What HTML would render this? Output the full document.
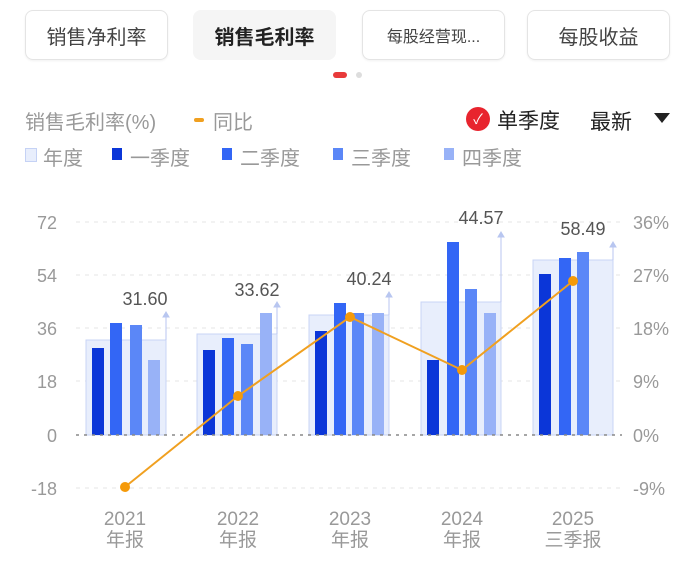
<!DOCTYPE html>
<html><head><meta charset="utf-8"><style>
body{margin:0;width:692px;height:565px;background:#fff;font-family:"Liberation Sans","Noto Sans CJK SC",sans-serif;position:relative;overflow:hidden}
.tab{position:absolute;top:10px;height:50px;width:143px;border:1px solid #e4e4e4;border-radius:8px;box-sizing:border-box;display:flex;align-items:center;justify-content:center;font-size:20px;color:#444;box-shadow:0 1px 2px rgba(0,0,0,0.06)}
.t{position:absolute;white-space:nowrap}
</style></head><body>
<div class="tab" style="left:25px">销售净利率</div>
<div class="tab" style="left:193px;border:none;background:#f5f5f5;font-weight:bold;color:#222;box-shadow:none">销售毛利率</div>
<div class="tab" style="left:362px;font-size:16px">每股经营现...</div>
<div class="tab" style="left:527px">每股收益</div>
<div style="position:absolute;left:333px;top:72px;width:14px;height:6px;border-radius:3px;background:#e83a3a"></div>
<div style="position:absolute;left:356px;top:72px;width:6px;height:6px;border-radius:3px;background:#ddd"></div>
<div class="t" style="left:25px;top:106px;font-size:20px;color:#999">销售毛利率(%)</div>
<div style="position:absolute;left:194px;top:118px;width:10px;height:4px;border-radius:2px;background:#f0a020"></div>
<div class="t" style="left:213px;top:106px;font-size:20px;color:#999">同比</div>
<div style="position:absolute;left:466px;top:107px;width:24px;height:24px;border-radius:12px;background:#e8242e;color:#fff;font-size:14px;text-align:center;line-height:24px">✓</div>
<div class="t" style="left:497px;top:105px;font-size:21px;color:#222">单季度</div>
<div class="t" style="left:590px;top:106px;font-size:21px;color:#222">最新</div>
<div style="position:absolute;left:654px;top:113px;width:0;height:0;border-left:8px solid transparent;border-right:8px solid transparent;border-top:10px solid #222"></div>
<div style="position:absolute;left:25px;top:148px;width:10px;height:12px;background:#e8eefc;border:1px solid #c5d2f5"></div>
<div class="t" style="left:43px;top:142px;font-size:20px;color:#999">年度</div>
<div style="position:absolute;left:112px;top:148px;width:10px;height:12px;background:#0b36d8"></div>
<div class="t" style="left:130px;top:142px;font-size:20px;color:#999">一季度</div>
<div style="position:absolute;left:222px;top:148px;width:10px;height:12px;background:#3366f5"></div>
<div class="t" style="left:240px;top:142px;font-size:20px;color:#999">二季度</div>
<div style="position:absolute;left:333px;top:148px;width:10px;height:12px;background:#5b87f7"></div>
<div class="t" style="left:351px;top:142px;font-size:20px;color:#999">三季度</div>
<div style="position:absolute;left:444px;top:148px;width:10px;height:12px;background:#98b2f7"></div>
<div class="t" style="left:462px;top:142px;font-size:20px;color:#999">四季度</div>
<svg width="692" height="565" style="position:absolute;left:0;top:0" font-family="Liberation Sans, Noto Sans CJK SC, sans-serif">
<g stroke="#e6e6e6" stroke-dasharray="4,5" stroke-width="1">
<line x1="76" x2="622" y1="222" y2="222"/><line x1="76" x2="622" y1="275" y2="275"/><line x1="76" x2="622" y1="328" y2="328"/><line x1="76" x2="622" y1="381" y2="381"/><line x1="76" x2="622" y1="488" y2="488"/>
</g>
<g fill="#999" font-size="18" text-anchor="end">
<text x="57" y="229">72</text><text x="57" y="282">54</text><text x="57" y="335">36</text><text x="57" y="388">18</text><text x="57" y="442">0</text><text x="57" y="495">-18</text>
</g>
<g fill="#999" font-size="18">
<text x="633" y="229">36%</text><text x="633" y="282">27%</text><text x="633" y="335">18%</text><text x="633" y="388">9%</text><text x="633" y="442">0%</text><text x="633" y="495">-9%</text>
</g>
<g fill="#e8eefc" stroke="#c8d4f6" stroke-width="1">
<rect x="86" y="340" width="80" height="95"/><rect x="197" y="334" width="80" height="101"/><rect x="309" y="315" width="80" height="120"/><rect x="421" y="302" width="80" height="133"/><rect x="533" y="260" width="80" height="175"/>
</g>
<g fill="#0b36d8"><rect x="92" y="348" width="12" height="87"/><rect x="203" y="350" width="12" height="85"/><rect x="315" y="331" width="12" height="104"/><rect x="427" y="360" width="12" height="75"/><rect x="539" y="274" width="12" height="161"/></g>
<g fill="#3366f5"><rect x="110" y="323" width="12" height="112"/><rect x="222" y="338" width="12" height="97"/><rect x="334" y="303" width="12" height="132"/><rect x="447" y="242" width="12" height="193"/><rect x="559" y="258" width="12" height="177"/></g>
<g fill="#5b87f7"><rect x="130" y="325" width="12" height="110"/><rect x="241" y="344" width="12" height="91"/><rect x="352" y="313" width="12" height="122"/><rect x="465" y="289" width="12" height="146"/><rect x="577" y="252" width="12" height="183"/></g>
<g fill="#98b2f7"><rect x="148" y="360" width="12" height="75"/><rect x="260" y="313" width="12" height="122"/><rect x="372" y="313" width="12" height="122"/><rect x="484" y="313" width="12" height="122"/></g>
<g stroke="#b8c6f0" stroke-width="1" fill="#b8c6f0">
<line x1="166" y1="340" x2="166" y2="316"/><path d="M163,317 L166,312 L169,317Z"/>
<line x1="277" y1="334" x2="277" y2="306"/><path d="M274,307 L277,302 L280,307Z"/>
<line x1="389" y1="315" x2="389" y2="296"/><path d="M386,297 L389,292 L392,297Z"/>
<line x1="501" y1="302" x2="501" y2="236"/><path d="M498,237 L501,232 L504,237Z"/>
<line x1="613" y1="260" x2="613" y2="246"/><path d="M610,247 L613,242 L616,247Z"/>
</g>
<line x1="76" x2="622" y1="435" y2="435" stroke="#888" stroke-dasharray="3,5" stroke-width="1.5"/>
<g fill="#555" font-size="18" text-anchor="middle">
<text x="145" y="305">31.60</text><text x="257" y="296">33.62</text><text x="369" y="285">40.24</text><text x="481" y="224">44.57</text><text x="583" y="235">58.49</text>
</g>
<polyline points="125,487 238,396 350,317 462,370 573,281" fill="none" stroke="#f0a020" stroke-width="2"/>
<g fill="#f59a0a"><circle cx="125" cy="487" r="5"/><circle cx="238" cy="396" r="5"/><circle cx="350" cy="317" r="5"/><circle cx="462" cy="370" r="5"/><circle cx="573" cy="281" r="5"/></g>
<g fill="#999" font-size="19" text-anchor="middle">
<text x="125" y="525">2021</text><text x="125" y="546">年报</text>
<text x="238" y="525">2022</text><text x="238" y="546">年报</text>
<text x="350" y="525">2023</text><text x="350" y="546">年报</text>
<text x="462" y="525">2024</text><text x="462" y="546">年报</text>
<text x="573" y="525">2025</text><text x="573" y="546">三季报</text>
</g>
</svg>
</body></html>
